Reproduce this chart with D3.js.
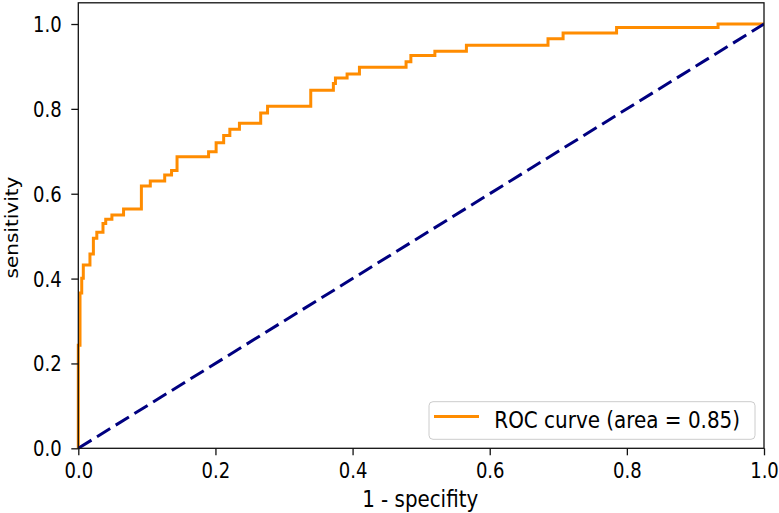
<!DOCTYPE html>
<html>
<head>
<meta charset="utf-8">
<script src="https://cdnjs.cloudflare.com/ajax/libs/d3/7.8.5/d3.min.js"></script>
<style>
  html, body { margin: 0; padding: 0; background: #fff; }
  svg { display: block; }
  text { font-family: "DejaVu Sans", sans-serif; fill: #000; }
</style>
</head>
<body>
<svg id="chart" width="779" height="513"></svg>
<script>
// ROC step points (top-left corner of each step)
const fpr = [0, 0, 0.0025, 0.005, 0.0073, 0.017, 0.022, 0.027, 0.036, 0.040, 0.049, 0.066,
  0.092, 0.105, 0.126, 0.136, 0.144, 0.190, 0.201, 0.212, 0.221, 0.235, 0.266, 0.276,
  0.339, 0.372, 0.375, 0.392, 0.410, 0.478, 0.485, 0.520, 0.566, 0.685, 0.707, 0.785,
  0.933, 1.0];
const tpr = [0, 0.243, 0.366, 0.401, 0.432, 0.458, 0.495, 0.509, 0.530, 0.540, 0.550, 0.564,
  0.618, 0.630, 0.644, 0.655, 0.687, 0.699, 0.720, 0.737, 0.752, 0.766, 0.790, 0.806,
  0.844, 0.860, 0.873, 0.882, 0.898, 0.911, 0.926, 0.936, 0.950, 0.965, 0.979, 0.992,
  1.0, 1.0];
const chanceX = [0, 1];
const chanceY = [0, 1];
const xTicks = [0, 0.2, 0.4, 0.6, 0.8, 1.0];
const yTicks = [0, 0.2, 0.4, 0.6, 0.8, 1.0];
const legendLabel = "ROC curve (area = 0.85)";
const xLabel = "1 - specifity";
const yLabel = "sensitivity";

const SX = 0.875; // horizontal squeeze of the reference text
const svg = d3.select("#chart");
const L = 78.3, R = 764, B = 448.3, T = 2.8;
const x = d3.scaleLinear().domain([0, 1]).range([L, R]);
const y = d3.scaleLinear().domain([0, 1.05]).range([B, T]);

const roc = fpr.map((f, i) => [f, tpr[i]]);
const chance = chanceX.map((f, i) => [f, chanceY[i]]);

svg.append("clipPath").attr("id", "clip")
  .append("rect").attr("x", L - 3).attr("y", T).attr("width", R - L + 3).attr("height", B - T + 3);

const plot = svg.append("g").attr("clip-path", "url(#clip)");

plot.append("path")
  .datum(roc)
  .attr("fill", "none")
  .attr("stroke", "#ff8c00")
  .attr("stroke-width", 3)
  .attr("stroke-linejoin", "miter")
  .attr("d", d3.line().x(d => x(d[0])).y(d => y(d[1])).curve(d3.curveStepAfter));

plot.append("path")
  .datum(chance)
  .attr("fill", "none")
  .attr("stroke", "#000080")
  .attr("stroke-width", 3)
  .attr("stroke-dasharray", "15.5,6.5")
  .attr("d", d3.line().x(d => x(d[0])).y(d => y(d[1])));

// spines
svg.append("rect")
  .attr("x", L).attr("y", T).attr("width", R - L).attr("height", B - T)
  .attr("fill", "none").attr("stroke", "#111").attr("stroke-width", 1.3);

// x axis
const gx = svg.append("g").attr("transform", `translate(0,${B})`)
  .call(d3.axisBottom(x).tickValues(xTicks).tickSize(7).tickSizeOuter(0).tickFormat(d3.format(".1f")));
gx.select(".domain").remove();
gx.selectAll(".tick line").attr("stroke", "#111").attr("stroke-width", 1.3);
gx.selectAll(".tick text")
  .attr("y", 30).attr("dy", null)
  .attr("font-size", "20.6px")
  .attr("font-family", "DejaVu Sans")
  .attr("fill", "#000")
  .attr("transform", `scale(${SX},1)`);

// y axis
const gy = svg.append("g").attr("transform", `translate(${L},0)`)
  .call(d3.axisLeft(y).tickValues(yTicks).tickSize(7).tickSizeOuter(0).tickFormat(d3.format(".1f")));
gy.select(".domain").remove();
gy.selectAll(".tick line").attr("stroke", "#111").attr("stroke-width", 1.3);
gy.selectAll(".tick text")
  .attr("x", -16.6 / SX).attr("dy", "0.36em")
  .attr("font-size", "20.6px")
  .attr("font-family", "DejaVu Sans")
  .attr("fill", "#000")
  .attr("transform", `scale(${SX},1)`);

// axis labels
svg.append("text")
  .attr("transform", `translate(${(L + R) / 2 - 1},506.5) scale(${SX},1)`)
  .attr("text-anchor", "middle")
  .attr("font-size", "22.7px")
  .text(xLabel);

svg.append("text")
  .attr("transform", `translate(17.5,${(T + B) / 2 + 2}) scale(${SX},1) rotate(-90)`)
  .attr("text-anchor", "middle")
  .attr("font-size", "20px")
  .text(yLabel);

// legend
const lg = svg.append("g");
lg.append("rect")
  .attr("x", 429).attr("y", 401.7).attr("width", 326).attr("height", 37.6)
  .attr("rx", 4).attr("ry", 4)
  .attr("fill", "#fff").attr("fill-opacity", 0.8)
  .attr("stroke", "#cccccc").attr("stroke-width", 1);
lg.append("line")
  .attr("x1", 434).attr("x2", 479).attr("y1", 416.5).attr("y2", 416.5)
  .attr("stroke", "#ff8c00").attr("stroke-width", 3);
lg.append("text")
  .attr("transform", `translate(494.3,428.3) scale(${SX},1)`)
  .attr("font-size", "22.8px")
  .text(legendLabel);
</script>
</body>
</html>
